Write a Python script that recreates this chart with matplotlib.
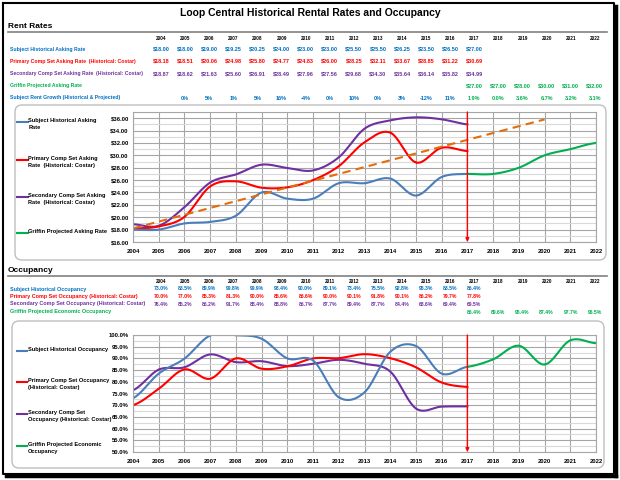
import numpy as np
import matplotlib.pyplot as plt
from matplotlib.lines import Line2D
from matplotlib.patches import FancyBboxPatch

plt.rcParams['font.family'] = ['Liberation Sans Narrow', 'Liberation Sans', 'DejaVu Sans']
plt.rcParams['font.weight'] = 'bold'

years = list(range(2004, 2023))
hist_years = list(range(2004, 2018))
proj_years = list(range(2017, 2023))
growth_years = list(range(2005, 2017))

# rent rates ($)
subject_rent = [18.00, 18.00, 19.00, 19.25, 20.25, 24.00, 23.00, 23.00, 25.50, 25.50, 26.25, 23.50, 26.50, 27.00]
primary_rent = [18.18, 18.51, 20.06, 24.98, 25.80, 24.77, 24.83, 26.00, 28.25, 32.11, 33.67, 28.85, 31.22, 30.69]
secondary_rent = [18.87, 18.62, 21.63, 25.60, 26.91, 28.49, 27.96, 27.56, 29.68, 34.30, 35.64, 36.14, 35.82, 34.99]
griffin_rent = [27.00, 27.00, 28.00, 30.00, 31.00, 32.00]
growth_hist = [0, 5, 1, 5, 16, -4, 0, 10, 0, 3, -12, 11]
growth_proj = [1.9, 0.0, 3.6, 6.7, 3.2, 3.1]
trend_years = [2004, 2020]
trend_rent = [18.2, 35.8]

# occupancy (%)
subject_occ = [73.0, 83.5, 89.9, 99.8, 99.9, 98.4, 90.0, 89.1, 73.4, 75.5, 92.8, 95.3, 83.5, 86.4]
primary_occ = [70.0, 77.0, 85.3, 81.3, 90.0, 85.6, 86.6, 90.0, 90.1, 91.8, 90.1, 86.2, 79.7, 77.8]
secondary_occ = [76.4, 85.2, 86.2, 91.7, 88.4, 88.8, 86.7, 87.7, 89.4, 87.7, 84.4, 68.6, 69.4, 69.5]
griffin_occ = [86.4, 89.6, 95.4, 87.4, 97.7, 96.5]

BLUE_TXT = '#0070C0'
BLUE = '#4A7EBB'
RED = '#FF0000'
PURPLE = '#7030A0'
GREEN = '#00B050'
ORANGE = '#E46C0A'

W, H = 620, 480
fig = plt.figure(figsize=(6.2, 4.8), dpi=100)


def fx(px):
    return px / W


def fy(py):
    return 1 - py / H


def smooth(x, y, n=24):
    # catmull-rom, close to excel "smoothed line"
    x = np.asarray(x, float)
    y = np.asarray(y, float)
    px = np.concatenate([[2 * x[0] - x[1]], x, [2 * x[-1] - x[-2]]])
    py = np.concatenate([[y[0]], y, [y[-1]]])
    xs, ys = [], []
    t = np.linspace(0, 1, n)
    for i in range(1, len(px) - 2):
        for p, out in ((px, xs), (py, ys)):
            p0, p1, p2, p3 = p[i - 1], p[i], p[i + 1], p[i + 2]
            out.extend(0.5 * (2 * p1 + (-p0 + p2) * t + (2 * p0 - 5 * p1 + 4 * p2 - p3) * t ** 2
                              + (-p0 + 3 * p1 - 3 * p2 + p3) * t ** 3))
    return xs, ys


def hline(x0, x1, y, color='#808080', lw=1.0):
    fig.add_artist(Line2D([fx(x0), fx(x1)], [fy(y), fy(y)], color=color, lw=lw))


def rbox(x0, y0, x1, y1):
    fig.add_artist(FancyBboxPatch((x0 / 100, (H - y1) / 100), (x1 - x0) / 100, (y1 - y0) / 100,
                                  boxstyle='round,pad=0,rounding_size=0.07',
                                  transform=fig.dpi_scale_trans, fc='white', ec='#BFBFBF', lw=1.0,
                                  zorder=-5))


def col(i):
    return fx(161 + 24.1 * i)


# frame
fig.add_artist(Line2D([fx(3), fx(614), fx(614), fx(3), fx(3)], [fy(3), fy(3), fy(474), fy(474), fy(3)],
                      color='black', lw=1.5))
fig.add_artist(Line2D([fx(615.5), fx(615.5)], [fy(6), fy(476)], color='black', lw=2.5))
fig.add_artist(Line2D([fx(6), fx(616)], [fy(475.5), fy(475.5)], color='black', lw=2.5))

fig.text(0.5, fy(13), 'Loop Central Historical Rental Rates and Occupancy', ha='center', va='center', fontsize=7.5)

# ---------------- rent table ----------------
fig.text(fx(8), fy(27), 'Rent Rates', ha='left', va='center', fontsize=6)
hline(8, 607, 32, lw=1.2)
for i, yr in enumerate(years):
    fig.text(col(i), fy(38), str(yr), ha='center', va='center', fontsize=3.3)

rent_rows = [
    ('Subject Historical Asking Rate', BLUE_TXT, 49, hist_years, subject_rent),
    ('Primary Comp Set Asking Rate  (Historical: Costar)', RED, 61, hist_years, primary_rent),
    ('Secondary Comp Set Asking Rate  (Historical: Costar)', PURPLE, 74, hist_years, secondary_rent),
    ('Griffin Projected Asking Rate', GREEN, 86, proj_years, griffin_rent),
]
for label, c, y, yrs, vals in rent_rows:
    fig.text(fx(10), fy(y), label, ha='left', va='center', fontsize=3.7, color=c)
    for yr, v in zip(yrs, vals):
        fig.text(col(yr - 2004), fy(y), f'${v:.2f}', ha='center', va='center', fontsize=4.0, color=c)

fig.text(fx(10), fy(98), 'Subject Rent Growth (Historical & Projected)', ha='left', va='center',
         fontsize=3.7, color=BLUE_TXT)
for yr, v in zip(growth_years, growth_hist):
    fig.text(col(yr - 2004), fy(98), f'{v:d}%', ha='center', va='center', fontsize=4.0, color=BLUE_TXT)
for yr, v in zip(proj_years, growth_proj):
    fig.text(col(yr - 2004), fy(98), f'{v:.1f}%', ha='center', va='center', fontsize=4.0, color=GREEN)

# ---------------- rent chart ----------------
rbox(15, 105, 606, 260)
ax1 = fig.add_axes([fx(133), fy(242), (596 - 133) / W, (242 - 112) / H])
ax1.plot(*smooth(hist_years, secondary_rent), color=PURPLE, lw=1.5)
ax1.plot(*smooth(hist_years, primary_rent), color=RED, lw=1.5)
ax1.plot(*smooth(hist_years, subject_rent), color=BLUE, lw=1.5)
ax1.plot(*smooth(proj_years, griffin_rent), color=GREEN, lw=1.5)
ax1.plot(trend_years, trend_rent, color=ORANGE, lw=1.5, ls=(0, (4, 2.5)))
ax1.set_xlim(2004, 2022)
ax1.set_ylim(16, 37)
ax1.set_yticks(np.arange(16, 37, 2))
ax1.set_yticklabels([f'${v:.2f}' for v in np.arange(16, 37, 2)])
ax1.set_yticks(np.arange(16, 38, 1), minor=True)
ax1.annotate('', xy=(2017, 16), xytext=(2017, 37),
             arrowprops=dict(arrowstyle='-|>', color=RED, lw=1.0, mutation_scale=5, shrinkA=0, shrinkB=0))

rent_legend = [
    (122, 'Subject Historical Asking\nRate', BLUE),
    (160, 'Primary Comp Set Asking\nRate  (Historical: Costar)', RED),
    (197, 'Secondary Comp Set Asking\nRate  (Historical: Costar)', PURPLE),
    (233, 'Griffin Projected Asking Rate', GREEN),
]
for y, label, c in rent_legend:
    hline(17, 28, y, color=c, lw=1.5)
    fig.text(fx(28.5), fy(y - 3.6), label, ha='left', va='top', fontsize=4.1, linespacing=1.35)

# ---------------- occupancy table ----------------
fig.text(fx(8), fy(271), 'Occupancy', ha='left', va='center', fontsize=6)
hline(8, 607, 276, lw=1.2)
for i, yr in enumerate(years):
    fig.text(col(i), fy(281.5), str(yr), ha='center', va='center', fontsize=3.3)

occ_rows = [
    ('Subject Historical Occupancy', BLUE_TXT, 289, hist_years, subject_occ),
    ('Primary Comp Set Occupancy (Historical: Costar)', RED, 296.5, hist_years, primary_occ),
    ('Secondary Comp Set Occupancy (Historical: Costar)', PURPLE, 304, hist_years, secondary_occ),
    ('Griffin Projected Economic Occupancy', GREEN, 312, proj_years, griffin_occ),
]
for label, c, y, yrs, vals in occ_rows:
    fig.text(fx(10), fy(y), label, ha='left', va='center', fontsize=3.9, color=c)
    for yr, v in zip(yrs, vals):
        fig.text(col(yr - 2004), fy(y), f'{v:.1f}%', ha='center', va='center', fontsize=3.7, color=c)

# ---------------- occupancy chart ----------------
rbox(12, 321, 604, 468)
ax2 = fig.add_axes([fx(133), fy(452), (596 - 133) / W, (452 - 335) / H])
ax2.plot(*smooth(hist_years, secondary_occ), color=PURPLE, lw=1.5)
ax2.plot(*smooth(hist_years, primary_occ), color=RED, lw=1.5)
ax2.plot(*smooth(hist_years, subject_occ), color=BLUE, lw=1.5)
ax2.plot(*smooth(proj_years, griffin_occ), color=GREEN, lw=1.5)
ax2.set_xlim(2004, 2022)
ax2.set_ylim(50, 100)
ax2.set_yticks(np.arange(50, 101, 5))
ax2.set_yticklabels([f'{v:.1f}%' for v in np.arange(50, 101, 5)])
ax2.set_yticks(np.arange(50, 100.1, 2.5), minor=True)
ax2.annotate('', xy=(2017, 50), xytext=(2017, 100),
             arrowprops=dict(arrowstyle='-|>', color=RED, lw=1.0, mutation_scale=5, shrinkA=0, shrinkB=0))

occ_legend = [
    (351, 'Subject Historical Occupancy', BLUE),
    (382, 'Primary Comp Set Occupancy\n(Historical: Costar)', RED),
    (414, 'Secondary Comp Set\nOccupancy (Historical: Costar)', PURPLE),
    (446, 'Griffin Projected Economic\nOccupancy', GREEN),
]
for y, label, c in occ_legend:
    hline(17, 27, y, color=c, lw=1.5)
    fig.text(fx(27.5), fy(y - 3.6), label, ha='left', va='top', fontsize=4.1, linespacing=1.35)

for ax in (ax1, ax2):
    ax.patch.set_alpha(0)
    ax.set_xticks(years)
    ax.set_xticklabels([str(y) for y in years])
    ax.tick_params(which='both', length=0, labelsize=4.2, pad=3)
    ax.tick_params(axis='x', pad=5)
    ax.grid(which='major', color='#A6A6A6', lw=0.8)
    ax.grid(which='minor', axis='y', color='#D9D9D9', lw=0.8)
    ax.set_axisbelow(True)
    for s in ax.spines.values():
        s.set_color('#A6A6A6')
        s.set_linewidth(0.8)

fig.savefig('out.png', dpi=100)
